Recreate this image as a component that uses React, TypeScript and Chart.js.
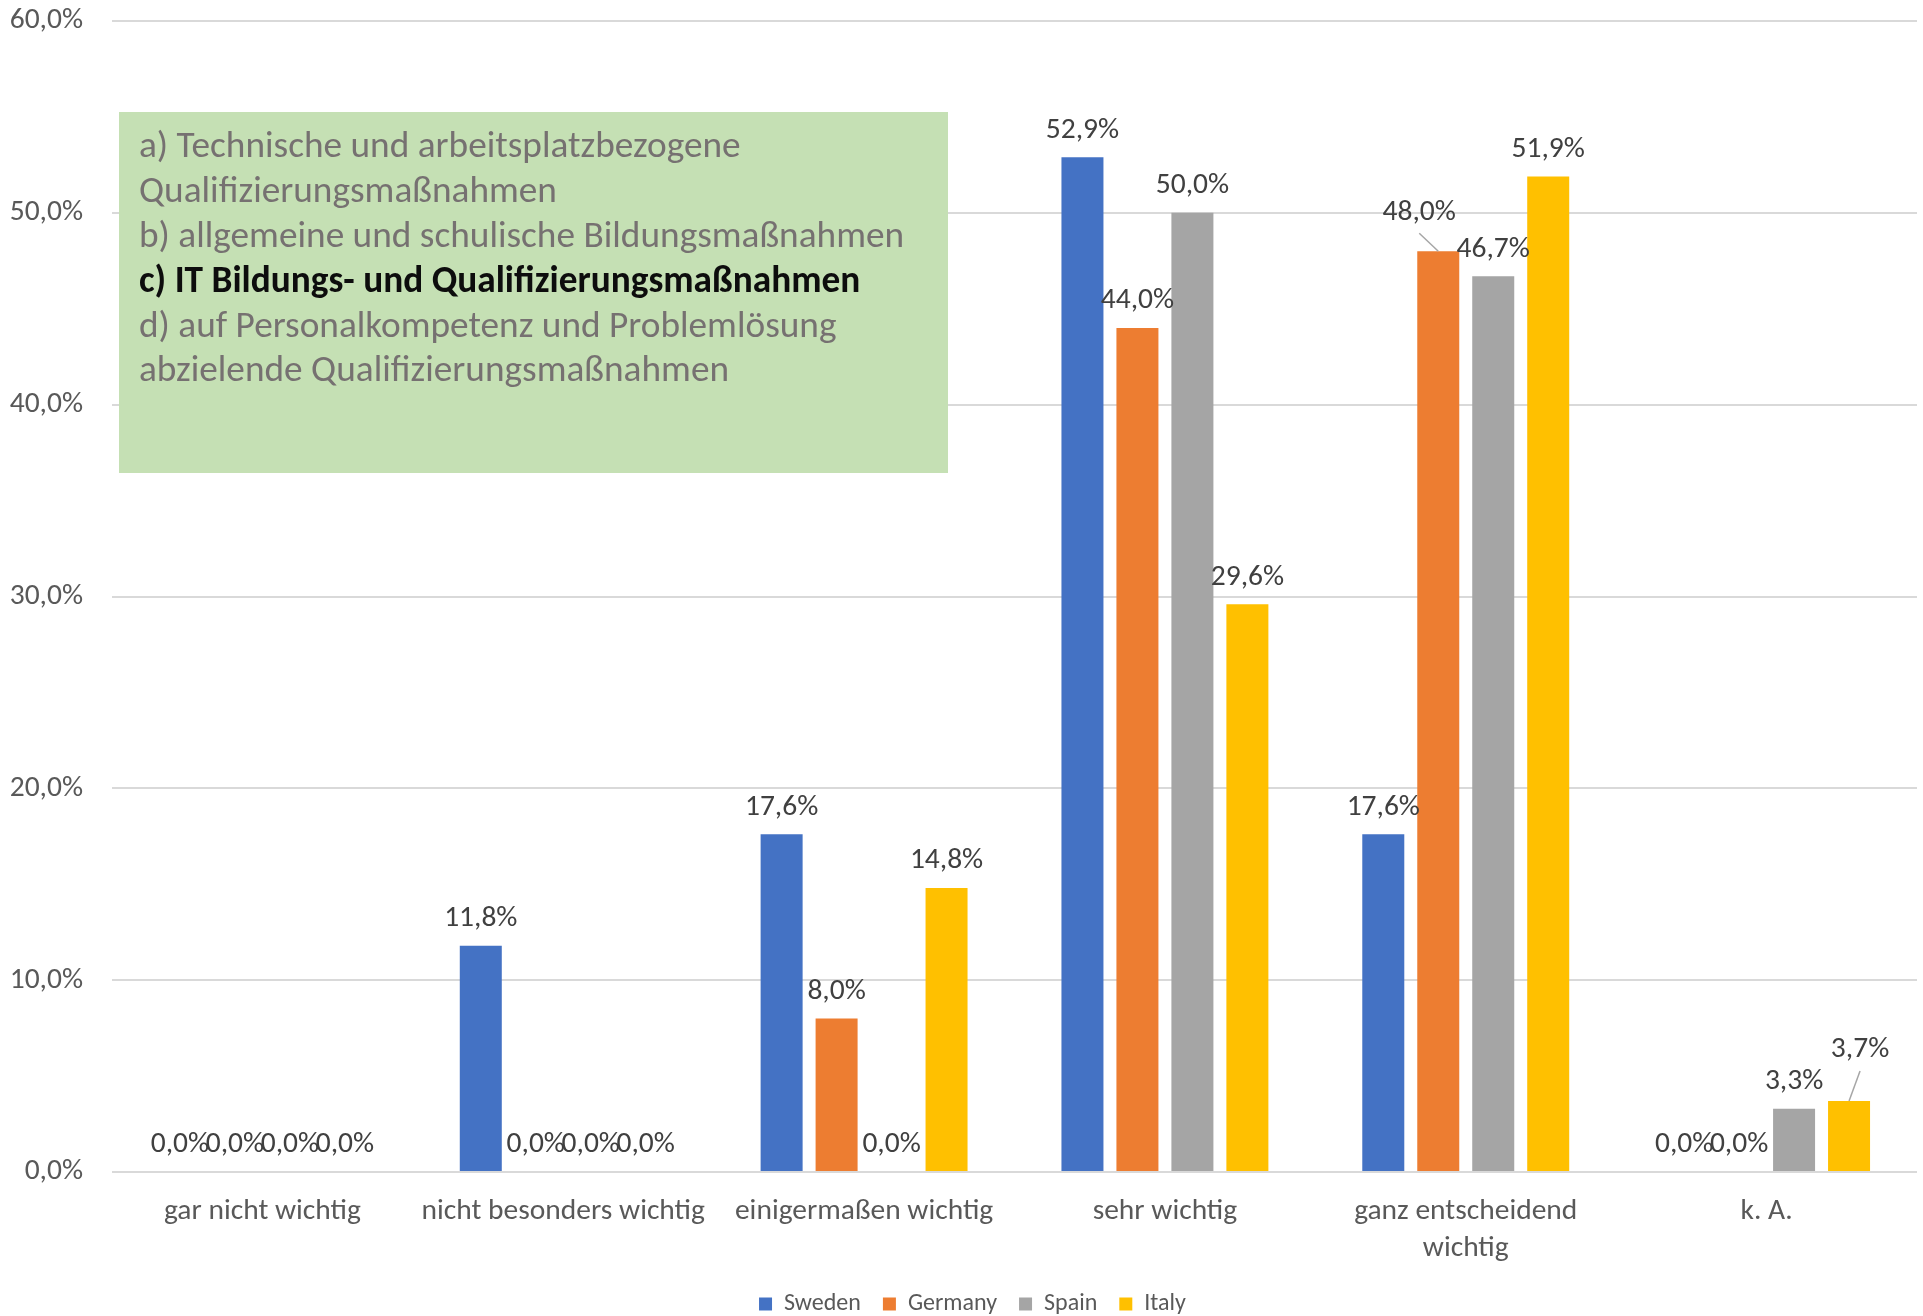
import React, { useEffect, useRef } from "react";
import { Chart, registerables } from "chart.js";

Chart.register(...registerables);

const FONT = "Carlito, Calibri, Lato, 'Open Sans', sans-serif";

const categories: (string | string[])[] = [
  "gar nicht wichtig",
  "nicht besonders wichtig",
  "einigermaßen wichtig",
  "sehr wichtig",
  ["ganz entscheidend", "wichtig"],
  "k. A.",
];
const seriesNames = ["Sweden", "Germany", "Spain", "Italy"];
const sweden = [0, 11.8, 17.6, 52.9, 17.6, 0];
const germany = [0, 0, 8.0, 44.0, 48.0, 0];
const spain = [0, 0, 0, 50.0, 46.7, 3.3];
const italy = [0, 0, 14.8, 29.6, 51.9, 3.7];
const yTicks = [0, 10, 20, 30, 40, 50, 60];

const noteLines = [
  { text: "a) Technische und arbeitsplatzbezogene", bold: false },
  { text: "Qualifizierungsmaßnahmen", bold: false },
  { text: "b) allgemeine und schulische Bildungsmaßnahmen", bold: false },
  { text: "c) IT Bildungs- und Qualifizierungsmaßnahmen", bold: true },
  { text: "d) auf Personalkompetenz und Problemlösung", bold: false },
  { text: "abzielende Qualifizierungsmaßnahmen", bold: false },
];

const COLORS = ["#4472C4", "#ED7D31", "#A5A5A5", "#FFC000"];

// labels moved away from their default place (drawn with a leader line)
const movedLabels = [
  { ds: 1, idx: 4, dx: -19, dy: -12 },
  { ds: 3, idx: 5, dx: 11, dy: -24 },
];

const fmt = (v: number) => v.toFixed(1).replace(".", ",") + "%";
const FS = 29.5;

const dataLabelPlugin = {
  id: "dataLabels",
  afterDatasetsDraw(chart: any) {
    const ctx = chart.ctx;
    ctx.save();
    ctx.font = `${FS}px ${FONT}`;
    ctx.textAlign = "center";
    ctx.textBaseline = "middle";
    chart.data.datasets.forEach((ds: any, di: number) => {
      const meta = chart.getDatasetMeta(di);
      meta.data.forEach((bar: any, i: number) => {
        const v = ds.data[i];
        const off = movedLabels.find((m) => m.ds === di && m.idx === i);
        const x = bar.x + (off ? off.dx : 0);
        const y = bar.y - 27 + (off ? off.dy : 0);
        if (off) {
          ctx.strokeStyle = "#A6A6A6";
          ctx.lineWidth = 1.5;
          ctx.beginPath();
          ctx.moveTo(x, y + 21);
          ctx.lineTo(bar.x, bar.y);
          ctx.stroke();
        }
        ctx.fillStyle = "#404040";
        ctx.fillText(fmt(v), x, y);
      });
    });
    ctx.restore();
  },
};

const noteBoxPlugin = {
  id: "noteBox",
  afterDraw(chart: any) {
    const ctx = chart.ctx;
    ctx.save();
    ctx.fillStyle = "#C5E0B4";
    ctx.fillRect(119, 112, 829, 361);
    ctx.textAlign = "left";
    ctx.textBaseline = "middle";
    noteLines.forEach((ln, i) => {
      ctx.font = `${ln.bold ? "bold " : ""}37.3px ${FONT}`;
      ctx.fillStyle = ln.bold ? "#0D0D0D" : "#767171";
      ctx.fillText(ln.text, 139, 148 + i * 44.8);
    });
    ctx.restore();
  },
};

const layoutShiftPlugin = {
  id: "layoutShift",
  afterLayout(chart: any) {
    const lg = chart.legend;
    if (lg) {
      const dx = 14;
      const dy = 10;
      lg.left += dx;
      lg.right += dx;
      lg.top += dy;
      lg.bottom += dy;
    }
    const xs = chart.scales.x;
    if (xs) {
      // let the two-line category label extend below the axis box (no clipping)
      xs.bottom += 30;
      xs.height += 30;
    }
  },
};

export default function App() {
  const ref = useRef<HTMLCanvasElement | null>(null);

  useEffect(() => {
    document.body.style.margin = "0";
    document.body.style.background = "#ffffff";
    if (!ref.current) return;
    const datasetsData = [sweden, germany, spain, italy];
    const chart = new Chart(ref.current, {
      type: "bar",
      data: {
        labels: categories as any,
        datasets: seriesNames.map((name, i) => ({
          label: name,
          data: datasetsData[i],
          backgroundColor: COLORS[i],
          borderWidth: 0,
          categoryPercentage: 0.731,
          barPercentage: 0.764,
        })),
      },
      options: {
        responsive: false,
        animation: false,
        devicePixelRatio: 1,
        layout: { padding: { left: 0, right: 6, top: 21, bottom: 0 } },
        plugins: {
          tooltip: { enabled: false },
          legend: {
            position: "bottom",
            labels: {
              color: "#595959",
              font: { family: FONT, size: 24 },
              boxWidth: 13,
              boxHeight: 13,
              padding: 22,
            },
          },
        },
        scales: {
          x: {
            grid: { display: false, drawTicks: false },
            border: { display: false },
            ticks: {
              color: "#595959",
              font: { family: FONT, size: FS, lineHeight: 1.25 },
              padding: 21,
              autoSkip: false,
              maxRotation: 0,
            },
            afterFit(scale: any) {
              scale.height = 88;
            },
          },
          y: {
            min: yTicks[0],
            max: yTicks[yTicks.length - 1],
            grid: { color: "#D9D9D9", lineWidth: 2, drawTicks: false },
            border: { display: false },
            ticks: {
              stepSize: yTicks[1] - yTicks[0],
              color: "#595959",
              font: { family: FONT, size: FS },
              padding: 29,
              callback: (v: any) => fmt(Number(v)),
            },
            afterFit(scale: any) {
              scale.width = 112;
              scale.paddingTop = 0;
              scale.paddingBottom = 0;
            },
          },
        },
      },
      plugins: [dataLabelPlugin, noteBoxPlugin, layoutShiftPlugin],
    });
    return () => chart.destroy();
  }, []);

  return (
    <div style={{ width: 1923, height: 1316 }}>
      <canvas ref={ref} width={1923} height={1316} style={{ display: "block" }} />
    </div>
  );
}
